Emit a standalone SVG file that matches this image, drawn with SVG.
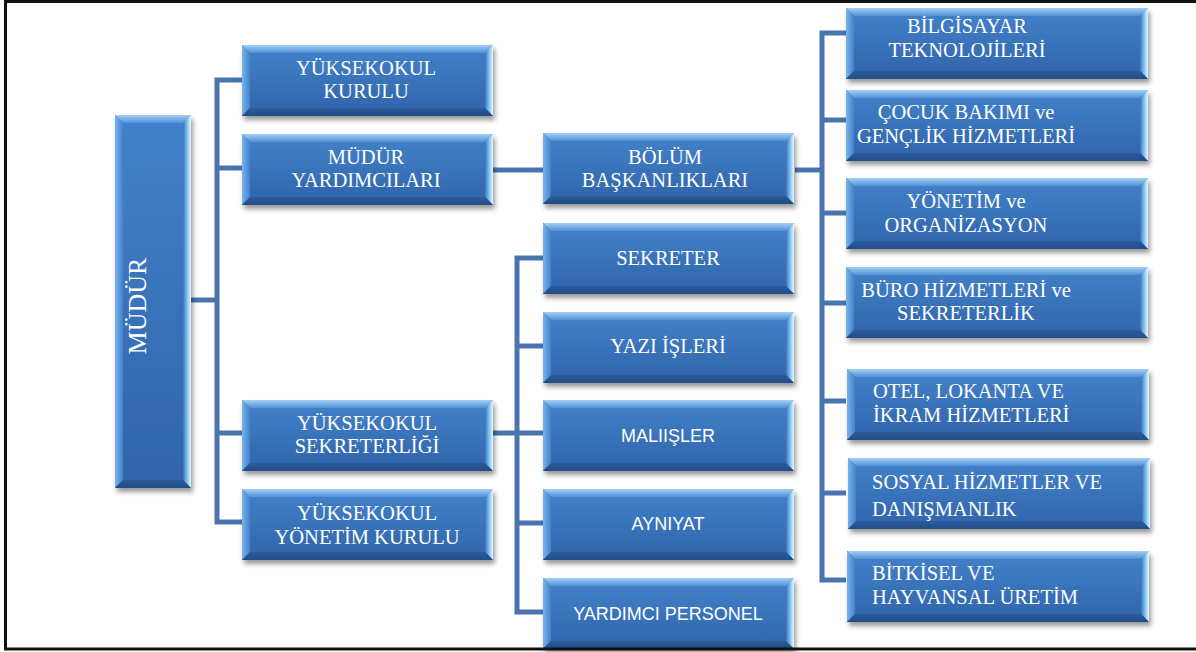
<svg xmlns="http://www.w3.org/2000/svg" xmlns:xlink="http://www.w3.org/1999/xlink" width="1196" height="652" viewBox="0 0 1196 652">
<style>
.t{font-family:"Liberation Serif","Times New Roman",serif;font-size:20.5px;fill:#ffffff;text-anchor:middle}
.s{font-family:"Liberation Sans",Arial,sans-serif;font-size:18px;fill:#ffffff;text-anchor:middle}
.l{text-anchor:start}
.c{fill:none;stroke:#4a74ad;stroke-width:5;stroke-linejoin:miter}
</style>
<defs>
<filter id="sh" x="-10%" y="-10%" width="130%" height="140%"><feDropShadow dx="2" dy="4" stdDeviation="2.5" flood-color="#000" flood-opacity="0.4"/></filter>
<linearGradient id="gFace" x1="0" y1="0" x2="0" y2="1"><stop offset="0" stop-color="#4282cb"/><stop offset="1" stop-color="#3064aa"/></linearGradient>
<linearGradient id="gTop" x1="0" y1="0" x2="0" y2="1"><stop offset="0" stop-color="#a2cff4"/><stop offset="1" stop-color="#5291d7"/></linearGradient>
<linearGradient id="gLeft" x1="0" y1="0" x2="1" y2="0"><stop offset="0" stop-color="#7ab2ea"/><stop offset="1" stop-color="#4282cb"/></linearGradient>
<linearGradient id="gRight" x1="0" y1="0" x2="1" y2="0"><stop offset="0" stop-color="#3a74bd"/><stop offset="0.55" stop-color="#86c6f2"/><stop offset="1" stop-color="#e8f8ff"/></linearGradient>
<linearGradient id="gBot" x1="0" y1="0" x2="0" y2="1"><stop offset="0" stop-color="#2c5c9c"/><stop offset="1" stop-color="#224c86"/></linearGradient>
<g id="boxA">
<rect x="0" y="0" width="251" height="71" fill="url(#gFace)"/>
<polygon points="0,0 251,0 243,8 8,8" fill="url(#gTop)"/>
<polygon points="0,0 8,8 8,63 0,71" fill="url(#gLeft)"/>
<polygon points="251,0 251,71 243,63 243,8" fill="url(#gRight)"/>
<polygon points="0,71 251,71 243,63 8,63" fill="url(#gBot)"/>
</g>
<g id="boxB">
<rect x="0" y="0" width="302" height="71" fill="url(#gFace)"/>
<polygon points="0,0 302,0 294,8 8,8" fill="url(#gTop)"/>
<polygon points="0,0 8,8 8,63 0,71" fill="url(#gLeft)"/>
<polygon points="302,0 302,71 294,63 294,8" fill="url(#gRight)"/>
<polygon points="0,71 302,71 294,63 8,63" fill="url(#gBot)"/>
</g>
<g id="boxM">
<rect x="0" y="0" width="76" height="373" fill="url(#gFace)"/>
<polygon points="0,0 76,0 68,8 8,8" fill="url(#gTop)"/>
<polygon points="0,0 8,8 8,365 0,373" fill="url(#gLeft)"/>
<polygon points="76,0 76,373 68,365 68,8" fill="url(#gRight)"/>
<polygon points="0,373 76,373 68,365 8,365" fill="url(#gBot)"/>
</g>
</defs>
<rect x="0" y="0" width="1196" height="652" fill="#ffffff"/>
<g id="connectors">
<path class="c" d="M191 300 H217"/>
<path class="c" d="M242 80 H217 V522 H242"/>
<path class="c" d="M217 168 H242"/>
<path class="c" d="M217 433 H242"/>
<path class="c" d="M493 170 H543"/>
<path class="c" d="M795 170 H822"/>
<path class="c" d="M846 33 H822 V580 H846"/>
<path class="c" d="M822 120 H846 M822 213 H846 M822 303 H846 M822 401 H846 M822 493 H846"/>
<path class="c" d="M493 433 H543"/>
<path class="c" d="M543 258 H517 V612 H543"/>
<path class="c" d="M517 346 H543 M517 523 H543"/>
</g>
<g id="n-mudur"><use xlink:href="#boxM" transform="translate(115,115)" filter="url(#sh)"/><text class="t" style="font-size:26px" transform="translate(146,306) rotate(-90)">MÜDÜR</text></g>
<g id="n-kurulu"><use xlink:href="#boxA" transform="translate(242,45)" filter="url(#sh)"/><text class="t" x="366" y="75">YÜKSEKOKUL</text><text class="t" x="366" y="98">KURULU</text></g>
<g id="n-yardimcilari"><use xlink:href="#boxA" transform="translate(242,134)" filter="url(#sh)"/><text class="t" x="366" y="164">MÜDÜR</text><text class="t" x="366" y="187">YARDIMCILARI</text></g>
<g id="n-sekreterligi"><use xlink:href="#boxA" transform="translate(242,400)" filter="url(#sh)"/><text class="t" x="367" y="430">YÜKSEKOKUL</text><text class="t" x="367" y="453">SEKRETERLİĞİ</text></g>
<g id="n-yonetimkurulu"><use xlink:href="#boxA" transform="translate(242,489)" filter="url(#sh)"/><text class="t" x="367" y="520">YÜKSEKOKUL</text><text class="t" x="367" y="544">YÖNETİM KURULU</text></g>
<g id="n-bolum"><use xlink:href="#boxA" transform="translate(543,133)" filter="url(#sh)"/><text class="t" x="665" y="164">BÖLÜM</text><text class="t" x="665" y="187">BAŞKANLIKLARI</text></g>
<g id="n-sekreter"><use xlink:href="#boxA" transform="translate(543,223)" filter="url(#sh)"/><text class="t" x="668" y="265">SEKRETER</text></g>
<g id="n-yazi"><use xlink:href="#boxA" transform="translate(543,312)" filter="url(#sh)"/><text class="t" x="668" y="353">YAZI İŞLERİ</text></g>
<g id="n-mali"><use xlink:href="#boxA" transform="translate(543,400)" filter="url(#sh)"/><text class="s" x="668" y="442">MALIIŞLER</text></g>
<g id="n-ayniyat"><use xlink:href="#boxA" transform="translate(543,489)" filter="url(#sh)"/><text class="s" x="668" y="530">AYNIYAT</text></g>
<g id="n-personel"><use xlink:href="#boxA" transform="translate(543,578)" filter="url(#sh)"/><text class="s" x="668" y="620">YARDIMCI PERSONEL</text></g>
<g id="n-bilgisayar"><use xlink:href="#boxB" transform="translate(846,8)" filter="url(#sh)"/><text class="t" x="967" y="33">BİLGİSAYAR</text><text class="t" x="967" y="57">TEKNOLOJİLERİ</text></g>
<g id="n-cocuk"><use xlink:href="#boxB" transform="translate(846,90)" filter="url(#sh)"/><text class="t" x="966" y="119">ÇOCUK BAKIMI ve</text><text class="t" x="966" y="143">GENÇLİK HİZMETLERİ</text></g>
<g id="n-yonetim"><use xlink:href="#boxB" transform="translate(846,178)" filter="url(#sh)"/><text class="t" x="966" y="208">YÖNETİM ve</text><text class="t" x="966" y="232">ORGANİZASYON</text></g>
<g id="n-buro"><use xlink:href="#boxB" transform="translate(846,267)" filter="url(#sh)"/><text class="t" x="966" y="297">BÜRO HİZMETLERİ ve</text><text class="t" x="966" y="320">SEKRETERLİK</text></g>
<g id="n-otel"><use xlink:href="#boxB" transform="translate(847,369)" filter="url(#sh)"/><text class="t l" x="873" y="398">OTEL, LOKANTA VE</text><text class="t l" x="873" y="422">İKRAM HİZMETLERİ</text></g>
<g id="n-sosyal"><use xlink:href="#boxB" transform="translate(848,458)" filter="url(#sh)"/><text class="t l" x="872" y="489">SOSYAL HİZMETLER VE</text><text class="t l" x="872" y="516">DANIŞMANLIK</text></g>
<g id="n-bitkisel"><use xlink:href="#boxB" transform="translate(847,551)" filter="url(#sh)"/><text class="t l" x="872" y="580">BİTKİSEL VE</text><text class="t l" x="872" y="604">HAYVANSAL ÜRETİM</text></g>
<rect x="5.5" y="1.5" width="1200" height="647.5" fill="none" stroke="#111111" stroke-width="3"/>
</svg>
